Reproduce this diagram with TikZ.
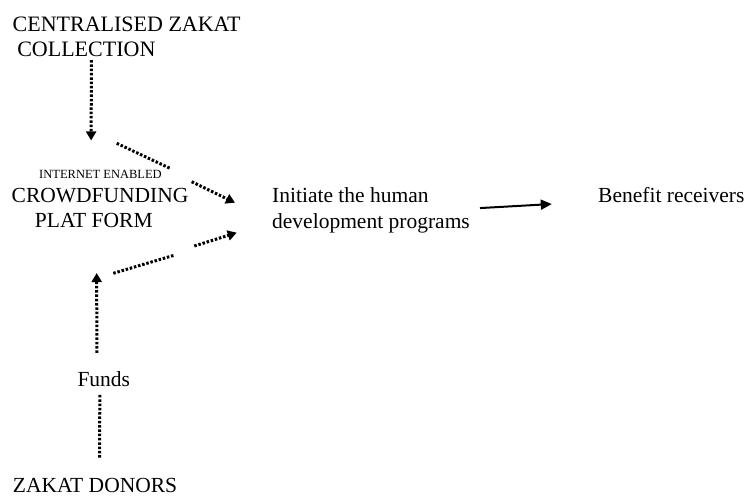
\documentclass[tikz,border=0pt]{standalone}
\usepackage{fontspec}
\setmainfont{Liberation Serif}
\usetikzlibrary{arrows.meta}
\tikzset{
  txt/.style={inner sep=0pt,font=\fontsize{21.5}{25.5}\selectfont},
  bigtxt/.style={inner sep=0pt,font=\fontsize{22}{25}\selectfont},
  smalltxt/.style={inner sep=0pt,font=\fontsize{12.5}{14}\selectfont},
  dotline/.style={line width=3pt,dash pattern=on 2.5pt off 1.8pt},
  dotarrow/.style={dotline,-{Triangle[length=9pt,width=10pt]}},
  solidarrow/.style={line width=2pt,-{Triangle[length=11pt,width=10pt]}}
}

\begin{document}
\begin{tikzpicture}[x=1pt,y=-1pt]
            \useasboundingbox (0,0) rectangle (745,496);
            \node[bigtxt,anchor=north west,align=left] (coll) at (12.5,16.6) {CENTRALISED ZAKAT\\\hspace*{4.6pt}COLLECTION};
            \node[smalltxt,anchor=base west] (net) at (39,178.3) {INTERNET ENABLED};
            \node[txt,anchor=north west,align=left] (crowd) at (11.5,187.6) {CROWDFUNDING\\\hspace*{23.3pt}PLAT FORM};
            \node[txt,anchor=north west,align=left] (prog) at (272,187.6) {Initiate the human\\development programs};
            \node[txt,anchor=base west] (benef) at (598,202.3) {Benefit receivers};
            \node[txt,anchor=base west] (funds) at (77.3,386) {Funds};
            \node[txt,anchor=base west] (donors) at (12.7,492.5) {ZAKAT DONORS};

            \coordinate (u1) at (116.7,143.3);
            \coordinate (u2) at (170,168.3);
            \coordinate (u3) at (191.7,181.7);
            \coordinate (u4) at (235,202.7);
            \coordinate (l1) at (113.3,273.3);
            \coordinate (l2) at (175,255);
            \coordinate (l3) at (194.3,246);
            \coordinate (l4) at (236.7,232.7);

            \draw[dotarrow,shorten <=3.3pt,shorten >=29.4pt] ([xshift=-35.2pt]coll.south) -- ([xshift=-9.5pt]net.north);
            \draw[dotline] (u1) -- (u2);
            \draw[dotarrow] (u3) -- (u4);
            \draw[dotline] (l1) -- (l2);
            \draw[dotarrow] (l3) -- (l4);
            \draw[dotarrow,shorten <=18pt,shorten >=45.1pt] ([xshift=-6.9pt]funds.north) -- ([xshift=-3.5pt]crowd.south);
            \draw[dotline,shorten <=20.4pt,shorten >=7pt] ([xshift=4.4pt]donors.north) -- ([xshift=-3.9pt]funds.south);
            \draw[solidarrow,shorten <=10pt,shorten >=46.3pt] ([yshift=1.7pt]prog.east) -- ([yshift=-6.6pt]benef.west);
\end{tikzpicture}
\end{document}
